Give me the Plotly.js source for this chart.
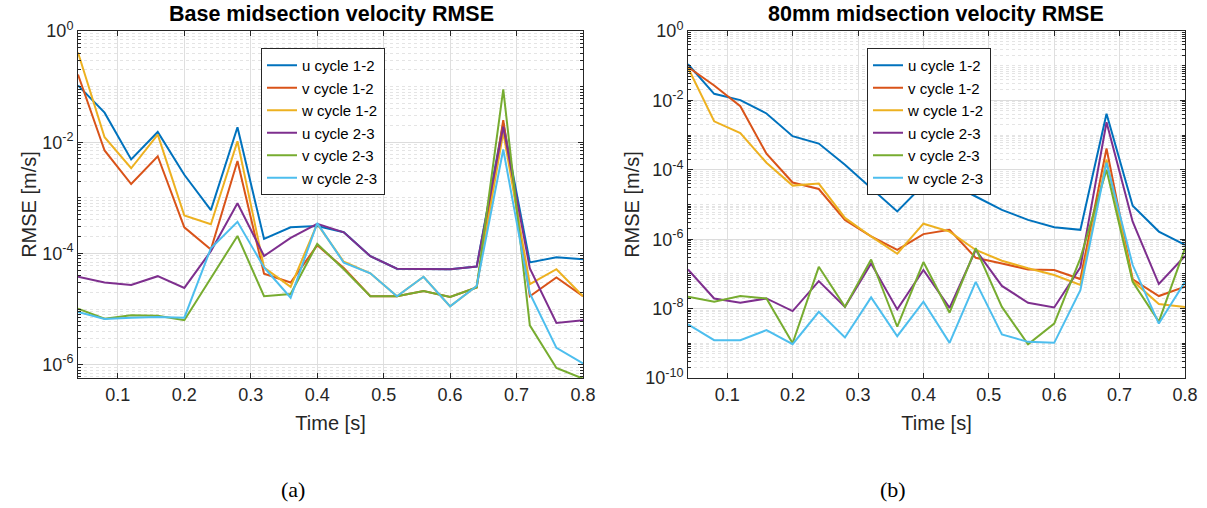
<!DOCTYPE html>
<html>
<head>
<meta charset="utf-8">
<script src="https://cdn.plot.ly/plotly-3.0.1.min.js"></script>
<style>
html,body{margin:0;padding:0;background:#fff;}
#chart{width:1207px;height:508px;}
</style>
</head>
<body>
<div id="chart"></div>
<script>
// Time samples [s]
const time = [0.04,0.08,0.12,0.16,0.20,0.24,0.28,0.32,0.36,0.40,0.44,0.48,0.52,0.56,0.60,0.64,0.68,0.72,0.76,0.80];

// (a) Base midsection velocity RMSE [m/s]
const baseU12 = [0.105,0.034,4.9e-3,0.0153,2.6e-3,6.0e-4,0.0186,1.82e-4,2.95e-4,3.1e-4,2.4e-4,8.9e-5,5.3e-5,5.2e-5,5.2e-5,5.8e-5,0.022,6.9e-5,8.5e-5,7.9e-5];
const baseV12 = [0.165,7.1e-3,1.77e-3,5.6e-3,2.95e-4,1.18e-4,4.6e-3,4.3e-5,3.0e-5,1.4e-4,5.5e-5,1.7e-5,1.7e-5,2.1e-5,1.65e-5,2.45e-5,0.025,1.7e-5,3.7e-5,1.7e-5];
const baseW12 = [0.41,0.0123,3.4e-3,0.0137,4.8e-4,3.35e-4,0.0104,5.6e-5,2.5e-5,3.4e-4,7.1e-5,4.4e-5,1.7e-5,3.8e-5,1.12e-5,2.6e-5,0.015,2.8e-5,5.2e-5,1.7e-5];
const baseU23 = [3.8e-5,3.0e-5,2.7e-5,3.9e-5,2.4e-5,1.1e-4,8.0e-4,9.0e-5,1.9e-4,3.4e-4,2.4e-4,8.9e-5,5.3e-5,5.2e-5,5.2e-5,5.8e-5,0.019,5.4e-5,5.6e-6,6.3e-6];
const baseV23 = [1.02e-5,6.7e-6,7.7e-6,7.6e-6,6.3e-6,3.7e-5,2.06e-4,1.7e-5,1.86e-5,1.48e-4,5.2e-5,1.7e-5,1.7e-5,2.1e-5,1.65e-5,2.45e-5,0.089,5.1e-6,8.7e-7,5.6e-7];
const baseW23 = [8.9e-6,6.6e-6,7.0e-6,7.2e-6,7.0e-6,1.24e-4,3.7e-4,5.6e-5,1.6e-5,3.5e-4,6.8e-5,4.4e-5,1.7e-5,3.8e-5,1.12e-5,2.6e-5,7.4e-3,1.9e-5,2.0e-6,1.05e-6];

// (b) 80mm midsection velocity RMSE [m/s]
const mmU12 = [0.11,0.0155,0.0102,4.2e-3,9.3e-4,5.7e-4,1.4e-4,3.0e-5,6.3e-6,3.7e-5,4.2e-5,1.7e-5,7.0e-6,3.6e-6,2.2e-6,1.86e-6,4.1e-3,9.2e-6,1.66e-6,6.9e-7];
const mmV12 = [0.091,0.027,6.8e-3,2.9e-4,4.3e-5,2.8e-5,3.6e-6,1.2e-6,4.9e-7,1.4e-6,1.86e-6,2.9e-7,2.0e-7,1.35e-7,1.3e-7,7.1e-8,4.1e-4,7.0e-8,2.3e-8,4.3e-8];
const mmW12 = [0.088,2.5e-3,1.15e-3,1.6e-4,3.5e-5,4.0e-5,4.1e-6,1.2e-6,3.8e-7,2.8e-6,1.66e-6,4.9e-7,2.4e-7,1.45e-7,9.3e-8,4.8e-8,2.0e-4,6.3e-8,1.35e-8,1.12e-8];
const mmU23 = [1.35e-7,1.96e-8,1.47e-8,1.96e-8,8.5e-9,6.2e-8,1.12e-8,2.0e-7,9.5e-9,1.3e-7,1.05e-8,4.9e-7,4.5e-8,1.47e-8,1.08e-8,1.55e-7,2.35e-3,3.2e-6,5.1e-8,3.3e-7];
const mmV23 = [2.2e-8,1.58e-8,2.3e-8,1.96e-8,1.0e-9,1.6e-7,1.12e-8,2.6e-7,3.0e-9,2.2e-7,7.6e-9,5.5e-7,1.12e-8,9.4e-10,3.7e-9,2.8e-7,1.0e-4,5.9e-8,4.2e-9,5.5e-7];
const mmW23 = [3.5e-9,1.23e-9,1.23e-9,2.4e-9,9.4e-10,8.1e-9,1.47e-9,2.1e-8,1.6e-9,1.58e-8,1.03e-9,5.9e-8,1.8e-9,1.1e-9,1.03e-9,3.4e-8,1.6e-4,1.8e-7,3.7e-9,5.9e-8];

const seriesNames = ['u cycle 1-2','v cycle 1-2','w cycle 1-2','u cycle 2-3','v cycle 2-3','w cycle 2-3'];
const colors = ['#0072BD','#D95319','#EDB120','#7E2F8E','#77AC30','#4DBEEE'];
const xTickVals = [0.1,0.2,0.3,0.4,0.5,0.6,0.7,0.8];
const xTickText = ['0.1','0.2','0.3','0.4','0.5','0.6','0.7','0.8'];
const yTickValsA = [1,1e-2,1e-4,1e-6];
const yTickTextA = ['10<sup>0</sup>','10<sup>-2</sup>','10<sup>-4</sup>','10<sup>-6</sup>'];
const yTickValsB = [1,1e-2,1e-4,1e-6,1e-8,1e-10];
const yTickTextB = ['10<sup>0</sup>','10<sup>-2</sup>','10<sup>-4</sup>','10<sup>-6</sup>','10<sup>-8</sup>','10<sup>-10</sup>'];

const baseSets = [baseU12,baseV12,baseW12,baseU23,baseV23,baseW23];
const mmSets = [mmU12,mmV12,mmW12,mmU23,mmV23,mmW23];

const traces = [];
baseSets.forEach((ys,i)=>traces.push({x:time,y:ys,type:'scatter',mode:'lines',name:seriesNames[i],
  line:{color:colors[i],width:2},xaxis:'x',yaxis:'y',legend:'legend'}));
mmSets.forEach((ys,i)=>traces.push({x:time,y:ys,type:'scatter',mode:'lines',name:seriesNames[i],
  line:{color:colors[i],width:2},xaxis:'x2',yaxis:'y2',legend:'legend2'}));

const W=1207,H=508;
const FONT='"Liberation Sans", Arial, Helvetica, sans-serif';
const axCol='#262626';
function xax(d0,d1,anchor){
  return {domain:[d0/W,d1/W],anchor:anchor,range:[0.04,0.8],tickmode:'array',tickvals:xTickVals,ticktext:xTickText,
    ticks:'inside',ticklen:5,tickcolor:axCol,showline:true,linecolor:axCol,linewidth:1,mirror:'ticks',
    showgrid:true,gridcolor:'#dfdfdf',gridwidth:1,zeroline:false,
    tickfont:{family:FONT,size:18,color:axCol},
    title:{text:'Time [s]',font:{family:FONT,size:20,color:axCol},standoff:12}};
}
function yax(range,tv,tt,anchor){
  return {domain:[(H-378)/H,(H-31)/H],anchor:anchor,type:'log',range:range,tickmode:'array',tickvals:tv,ticktext:tt,
    ticks:'inside',ticklen:5,tickcolor:axCol,showline:true,linecolor:axCol,linewidth:1,mirror:'ticks',
    showgrid:true,gridcolor:'#dcdcdc',gridwidth:1,zeroline:false,
    minor:{dtick:'D1',showgrid:true,gridcolor:'#e4e4e4',griddash:'dot',gridwidth:1,ticks:'inside',ticklen:3,tickcolor:axCol},
    tickfont:{family:FONT,size:18,color:axCol},
    title:{text:'RMSE [m/s]',font:{family:FONT,size:20,color:axCol},standoff:0}};
}

const legendStyle = (x)=>({x:x/W,y:1-48/H,xanchor:'left',yanchor:'top',bgcolor:'#fff',bordercolor:axCol,borderwidth:1,
  font:{family:FONT,size:15,color:'#000'},tracegroupgap:0,entrywidth:92,entrywidthmode:'pixels'});

const layout = {
  width:W,height:H,margin:{l:0,r:0,t:0,b:0},paper_bgcolor:'#fff',plot_bgcolor:'#fff',
  showlegend:true,
  xaxis:xax(78,583,'y'),
  yaxis:yax([-6.24,0],yTickValsA,yTickTextA,'x'),
  xaxis2:xax(688,1185,'y2'),
  yaxis2:yax([-10,0],yTickValsB,yTickTextB,'x2'),
  legend:legendStyle(261),
  legend2:legendStyle(867),
  annotations:[
    {text:'<b>Base midsection velocity RMSE</b>',x:331/W,y:1-14/H,xref:'paper',yref:'paper',showarrow:false,xanchor:'center',yanchor:'middle',font:{family:FONT,size:21.5,color:'#000'}},
    {text:'<b>80mm midsection velocity RMSE</b>',x:936/W,y:1-14/H,xref:'paper',yref:'paper',showarrow:false,xanchor:'center',yanchor:'middle',font:{family:FONT,size:21.5,color:'#000'}},
    {text:'(a)',x:293/W,y:1-489/H,xref:'paper',yref:'paper',showarrow:false,xanchor:'center',yanchor:'middle',font:{family:'"Liberation Serif", "DejaVu Serif", serif',size:22,color:'#000'}},
    {text:'(b)',x:893/W,y:1-489/H,xref:'paper',yref:'paper',showarrow:false,xanchor:'center',yanchor:'middle',font:{family:'"Liberation Serif", "DejaVu Serif", serif',size:22,color:'#000'}}
  ]
};
Plotly.newPlot('chart',traces,layout,{displayModeBar:false,staticPlot:true});
</script>
</body>
</html>
